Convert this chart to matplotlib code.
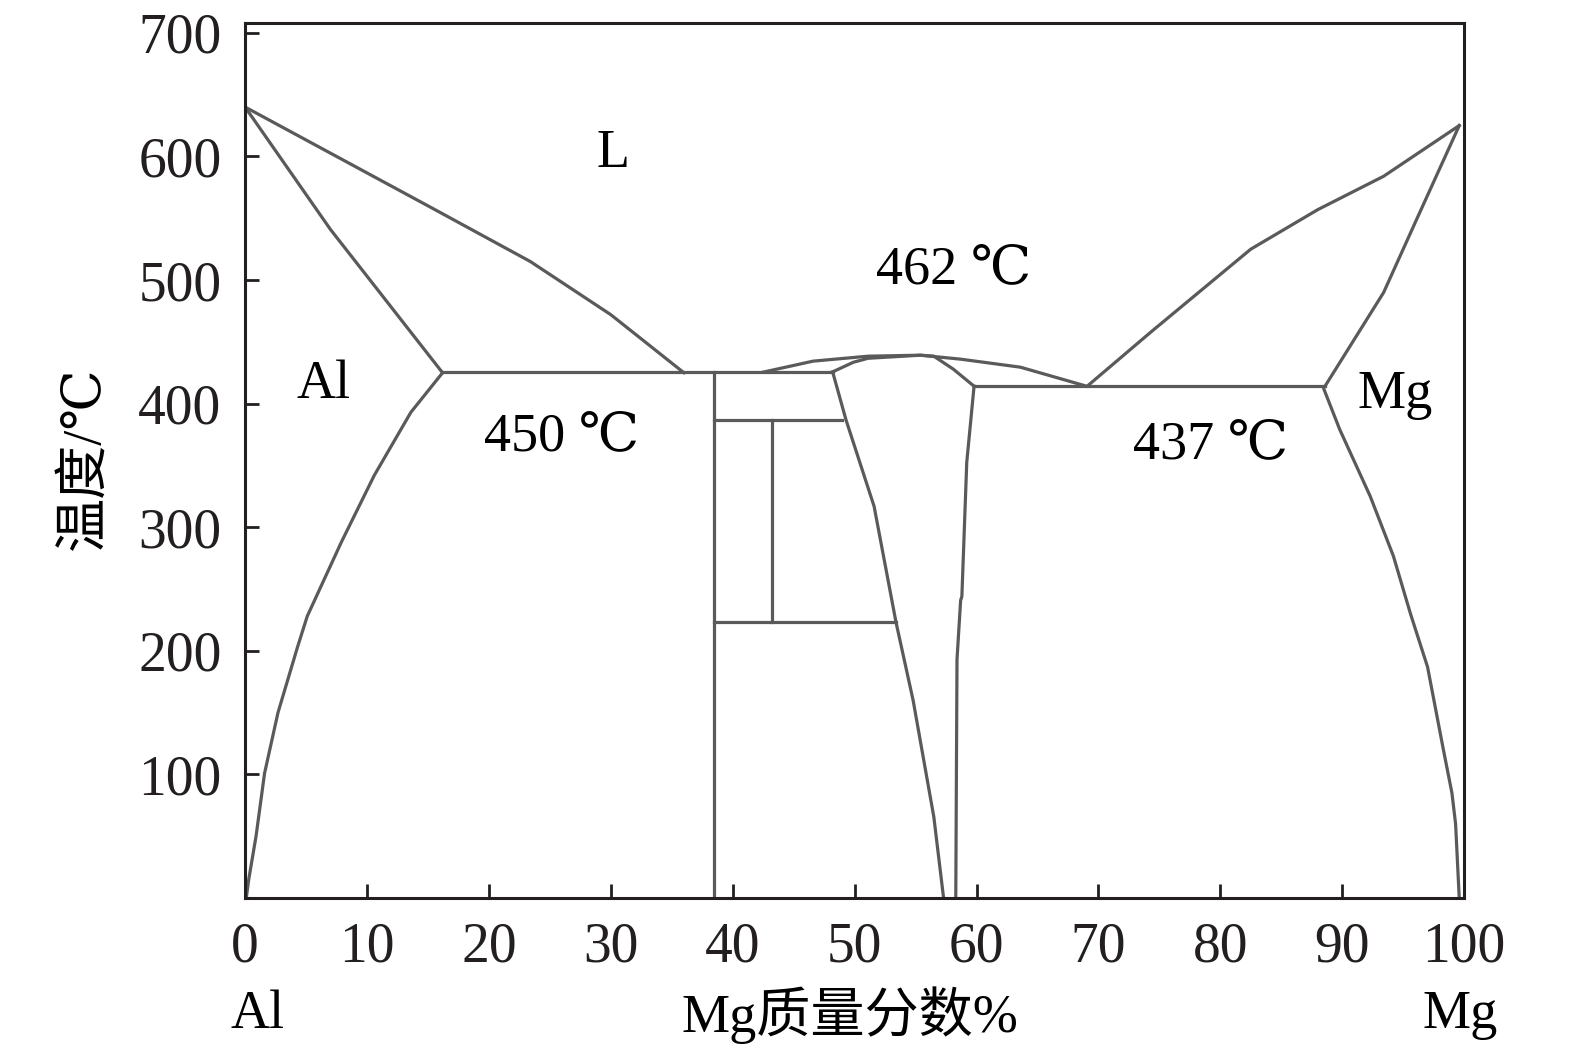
import matplotlib
matplotlib.use('Agg')
import matplotlib.pyplot as plt

plt.rcParams['font.family'] = ['Liberation Serif', 'DejaVu Serif', 'Noto Sans CJK SC']

# Mg 质量分数 (%) 与 温度 (℃) —— 读图估计
al_liq_x = [0, 15.2, 23.4, 30.0, 36.0]
al_liq_t = [640, 559, 515, 472, 425]

al_sol_x = [0, 7.0, 16.2]
al_sol_t = [640, 541, 425]

al_solvus_x = [16.2, 13.6, 10.6, 7.9, 5.1, 4.3, 2.7, 1.6, 0.9, 0.3, 0.1]
al_solvus_t = [425, 393, 342, 288, 228, 203, 150, 101, 50, 15, 0]

left_eut_x = [16.2, 48.2]
left_eut_t = [425.5, 425.5]

beta_x = [38.5, 38.5]
beta_t = [425.5, 0]

h387_x = [38.5, 49.0]
h387_t = [386.8, 386.8]

v43_x = [43.2, 43.2]
v43_t = [386.8, 223]

h223_x = [38.5, 53.4]
h223_t = [223, 223]

gam_left_x = [48.2, 49.3, 51.6, 53.4, 54.8, 56.5, 57.3]
gam_left_t = [425.7, 386.7, 316.9, 223, 160, 65.6, 0]

gam_right_x = [59.8, 59.2, 58.8, 58.7, 58.4, 58.3]
gam_right_t = [414.1, 352.5, 244, 241, 193, 0]

dome_liq_x = [42.5, 46.6, 51.1, 55.4, 58.7, 63.6, 68.9]
dome_liq_t = [425.5, 434.4, 438.4, 439.2, 436, 429.5, 414.5]

dome_sol_x = [48.2, 49.9, 51.1, 55.4, 56.5, 58.1, 59.8]
dome_sol_t = [425.7, 433.5, 436.7, 439.2, 438.4, 427.9, 414.1]

right_eut_x = [59.8, 88.6]
right_eut_t = [414.5, 414.5]

mg_liq_x = [69.1, 74.3, 82.5, 88.0, 93.4, 99.6]
mg_liq_t = [414.3, 457.9, 525, 557, 584, 625]

mg_sol_x = [99.6, 96.1, 93.4, 88.6]
mg_sol_t = [625, 549, 490, 414.3]

mg_solvus_x = [88.5, 89.8, 92.3, 94.2, 95.6, 97.0, 98.3, 99.0, 99.3, 99.6]
mg_solvus_t = [411.7, 379, 325, 276.6, 230, 187, 120, 85, 60, 0]

x_ticks = [0, 10, 20, 30, 40, 50, 60, 70, 80, 90, 100]
y_ticks = [100, 200, 300, 400, 500, 600, 700]

fig = plt.figure(figsize=(15.75, 10.59), dpi=100)
ax = fig.add_axes([0.1556, 0.152, 0.774, 0.8263])

curves = [
    (al_liq_x, al_liq_t), (al_sol_x, al_sol_t), (al_solvus_x, al_solvus_t),
    (left_eut_x, left_eut_t), (beta_x, beta_t), (h387_x, h387_t),
    (v43_x, v43_t), (h223_x, h223_t), (gam_left_x, gam_left_t),
    (gam_right_x, gam_right_t), (dome_liq_x, dome_liq_t),
    (dome_sol_x, dome_sol_t), (right_eut_x, right_eut_t),
    (mg_liq_x, mg_liq_t), (mg_sol_x, mg_sol_t), (mg_solvus_x, mg_solvus_t),
]
for xs, ts in curves:
    ax.plot(xs, ts, color='#5a5a5a', lw=2.3, solid_joinstyle='round')

ax.set_xlim(0, 100)
ax.set_ylim(0, 708)
ax.set_xticks(x_ticks)
ax.set_yticks(y_ticks)
ax.tick_params(direction='in', length=10, width=2, labelsize=40,
               pad=17, colors='#231f20')
for s in ax.spines.values():
    s.set_linewidth(2.2)
    s.set_color('#231f20')

fs = 39
ax.text(30.2, 602, 'L', fontsize=fs, ha='center', va='center')
ax.text(58.1, 508, '462 ℃', fontsize=fs, ha='center', va='center')
ax.text(6.4, 415, 'Al', fontsize=fs, ha='center', va='center')
ax.text(26.0, 373, '450 ℃', fontsize=fs, ha='center', va='center')
ax.text(79.2, 367, '437 ℃', fontsize=fs, ha='center', va='center')
ax.text(94.3, 407, 'Mg', fontsize=fs, ha='center', va='center')

fig.text(258 / 1575, 1 - 1015 / 1059, 'Al', fontsize=fs, ha='center', va='center')
fig.text(850 / 1575, 1 - 1015 / 1059, 'Mg质量分数%', fontsize=fs, ha='center', va='center')
fig.text(1460 / 1575, 1 - 1015 / 1059, 'Mg', fontsize=fs, ha='center', va='center')
fig.text(85 / 1575, 1 - 458 / 1059, '温度/℃', fontsize=fs, ha='center', va='center',
         rotation=90)

fig.savefig('out.png', dpi=100, facecolor='white')
